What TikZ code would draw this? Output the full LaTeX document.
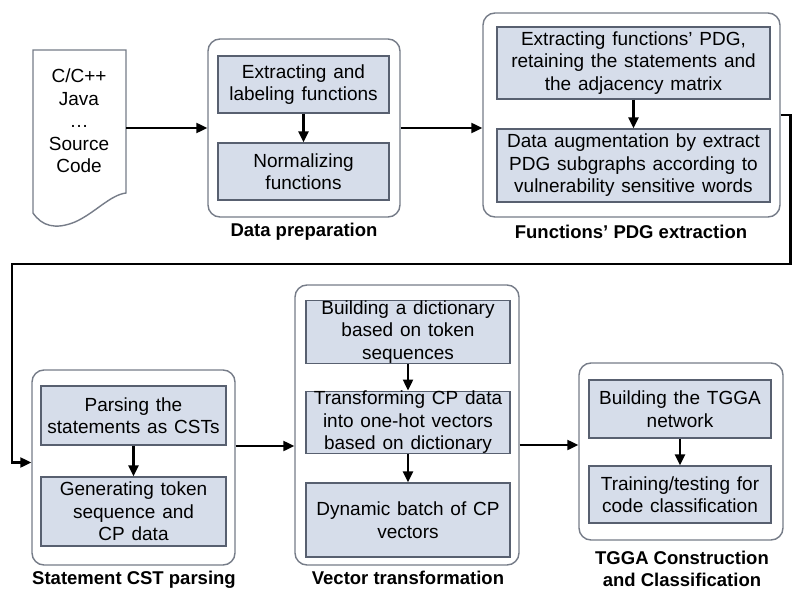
\documentclass[tikz,border=0pt]{standalone}
\usepackage{fontspec}
\setmainfont{Liberation Sans}
\usetikzlibrary{arrows.meta,calc}
\definecolor{boxfill}{RGB}{214,221,234}
\definecolor{boxline}{RGB}{88,96,112}
\definecolor{frameline}{RGB}{118,124,136}

\begin{document}
\begin{tikzpicture}[x=1pt,y=-1pt,
  txt/.style={font={\fontsize{19}{22.5}\selectfont\spaceskip=0.36em\relax}, align=center, inner sep=0pt},
  task/.style={txt, draw=boxline, fill=boxfill, line width=1.2pt, rectangle},
  stage/.style={draw=frameline, fill=white, line width=1.4pt, rounded corners=12pt, inner sep=0pt, rectangle},
  title/.style={font={\fontsize{18.5}{22}\selectfont\bfseries}, align=center, inner sep=0pt},
  conn/.style={line width=2.2pt, -{Triangle[length=11pt,width=10pt]}},
]
\useasboundingbox (0,0) rectangle (792,591);

% ---- source code document ----
\draw[frameline, line width=1.4pt, fill=white]
  (33,50) -- (126,50) -- (126,193)
  .. controls (110,195) and (95,213) .. (75,222)
  .. controls (55,230) and (42,226) .. (33,213) -- cycle;
\node[txt] (src) at (79,121) {C/C++\\Java\\\dots\\Source\\Code};
\coordinate (srcR) at (126,128);

% ---- stage frames ----
\node[stage, minimum width=192, minimum height=178] (dp)  at (304,128) {};
\node[stage, minimum width=297, minimum height=204] (pdg) at (631.5,115) {};
\node[stage, minimum width=203, minimum height=195] (cst) at (133.5,467.5) {};
\node[stage, minimum width=224, minimum height=280] (vec) at (407,425) {};
\node[stage, minimum width=204, minimum height=177] (tg)  at (681,451.5) {};

% ---- data preparation ----
\node[task, minimum width=171, minimum height=57] (dp1) at (303.5,84.5) {Extracting and\\labeling functions};
\node[task, minimum width=171, minimum height=57] (dp2) at (303.5,171.5) {Normalizing\\functions};
\node[title] (dpT) at (304,232) {Data preparation};

% ---- PDG extraction ----
\node[task, minimum width=273, minimum height=72] (pdg1) at (633.5,63) {Extracting functions' PDG,\\retaining the statements and\\the adjacency matrix};
\node[task, minimum width=273, minimum height=73] (pdg2) at (633.5,165.5) {Data augmentation by extract\\PDG subgraphs according to\\vulnerability sensitive words};
\node[title] (pdgT) at (631,232) {Functions' PDG extraction};

% ---- CST parsing ----
\node[task, minimum width=185, minimum height=59] (cst1) at (133.5,415.5) {Parsing the\\statements as CSTs};
\node[task, minimum width=185, minimum height=69] (cst2) at (133.5,511.5) {Generating token\\sequence and\\CP data};
\node[title] (cstT) at (134,580) {Statement CST parsing};

% ---- vector transformation ----
\node[task, minimum width=204, minimum height=62] (v1) at (408,332) {Building a dictionary\\based on token\\sequences};
\node[task, minimum width=204, minimum height=61] (v2) at (408,422.5) {Transforming CP data\\into one-hot vectors\\based on dictionary};
\node[task, minimum width=204, minimum height=74] (v3) at (408,520) {Dynamic batch of CP\\vectors};
\node[title] (vecT) at (408,578) {Vector transformation};

% ---- TGGA ----
\node[task, minimum width=182, minimum height=58] (t1) at (680,409) {Building the TGGA\\network};
\node[task, minimum width=182, minimum height=57] (t2) at (680,494.5) {Training/testing for\\code classification};
\node[title] (tgT) at (682,569) {TGGA Construction\\and Classification};

% ---- steps inside each stage ----
\draw[conn] (dp1) -- (dp2);
\draw[conn] (pdg1) -- (pdg2);
\draw[conn] (cst1) -- (cst2);
\draw[conn] (v1) -- (v2);
\draw[conn] (v2) -- (v3);
\draw[conn] (t1) -- (t2);

% ---- flow between stages ----
\coordinate (turnR) at (790.5,264);
\coordinate (turnL) at (12,264);
\draw[conn] (srcR) -- (dp.west |- srcR);
\draw[conn] (dp.east) -- (dp.east -| pdg.west);
\draw[conn] (pdg.east) -| (turnR) -- (turnL) |- ($(cst.west)+(0,-5)$);
\draw[conn] ($(cst.east)+(0,-21.5)$) -- ($(cst.east -| vec.west)+(0,-21.5)$);
\draw[conn] ($(vec.east)+(0,20)$) -- ($(vec.east -| tg.west)+(0,20)$);
\end{tikzpicture}
\end{document}
